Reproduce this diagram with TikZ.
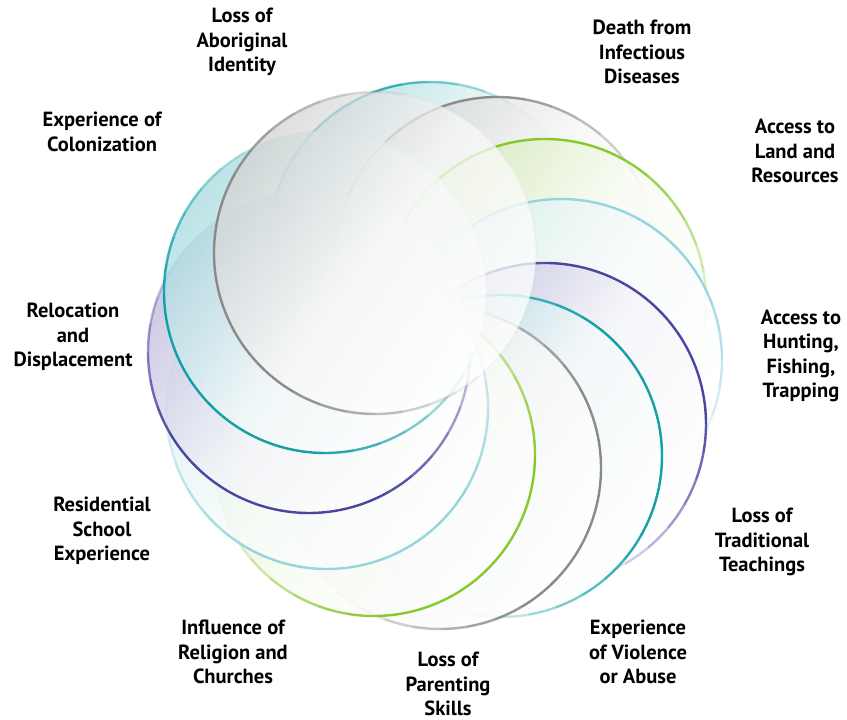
\documentclass[tikz,border=0pt]{standalone}
\usepackage{fontspec}
\setmainfont{PT Sans}
\definecolor{cgray}{RGB}{138,138,138}
\definecolor{cteal}{RGB}{18,160,166}
\definecolor{cpurple}{RGB}{76,68,160}
\definecolor{cgreen}{RGB}{135,200,45}
\definecolor{ccyan}{RGB}{150,212,222}
\newcommand\ringcircle[4]{%
  \pgfmathsetmacro\rcy{720-#2}%
  \shade[top color=#4!38, bottom color=white, middle color=#4!6, shading angle=55, fill opacity=0.75] (#1,\rcy) circle[radius=161];
  \foreach \k in {0,...,35}{%
    \pgfmathsetmacro\op{max(0.04,min(1,0.4+0.8*cos(\k*10+5-#3-75)))}%
    \draw[#4, line width=2.4pt, draw opacity=\op, shift={(#1,\rcy)}] (\k*10:161) arc[start angle=\k*10, end angle=\k*10+10, radius=161];
  }%
}
\tikzset{lab/.style={font=\bfseries\fontsize{20.5}{24.5}\selectfont, align=center, text=black, inner sep=0pt}}
\begin{document}
\begin{tikzpicture}[x=1pt,y=1pt]
\fill[white] (0,0) rectangle (847,720);
\useasboundingbox (0,0) rectangle (847,720);
% circles, back to front
\ringcircle{430}{243}{90}{cteal}
\ringcircle{497}{258}{60}{cgray}
\ringcircle{545}{300}{30}{cgreen}
\ringcircle{561}{360}{0}{ccyan}
\ringcircle{545}{424}{-30}{cpurple}
\ringcircle{501}{456}{-60}{cteal}
\ringcircle{440}{468}{-90}{cgray}
\ringcircle{374}{455}{-120}{cgreen}
\ringcircle{327}{408}{-150}{ccyan}
\ringcircle{309}{352}{180}{cpurple}
\ringcircle{325}{292}{150}{cteal}
\ringcircle{375}{253}{120}{cgray}
% labels
\node[lab] (aboriginal) at (242,720-42) {Loss of\\Aboriginal\\Identity};
\node[lab] (death) at (642,720-52) {Death from\\Infectious\\Diseases};
\node[lab] (land) at (795,720-151) {Access to\\Land and\\Resources};
\node[lab] (hunting) at (801,720-356) {Access to\\Hunting,\\Fishing,\\Trapping};
\node[lab] (teachings) at (762,720-542) {Loss of\\Traditional\\Teachings};
\node[lab] (violence) at (638,720-652) {Experience\\of Violence\\or Abuse};
\node[lab] (parenting) at (448,720-684) {Loss of\\Parenting\\Skills};
\node[lab] (religion) at (233,720-652) {Influence of\\Religion and\\Churches};
\node[lab] (residential) at (102,720-531) {Residential\\School\\Experience};
\node[lab] (relocation) at (73,720-337) {Relocation\\and\\Displacement};
\node[lab] (colonization) at (102,720-132) {Experience of\\Colonization};
\end{tikzpicture}
\end{document}
